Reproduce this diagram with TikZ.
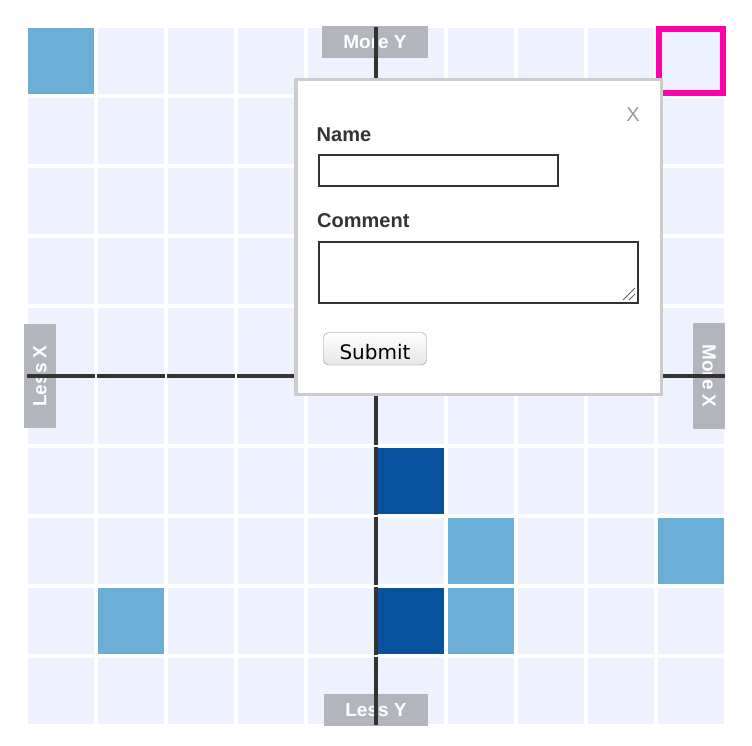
\documentclass[tikz,border=0pt]{standalone}
\usepackage{fontspec}
\setmainfont{Liberation Sans}
\newfontfamily\buttonfont{DejaVu Sans}
\usepackage{xcolor}
\usepackage{tikz}
\definecolor{cellbg}{HTML}{EEF2FE}
\definecolor{lightblue}{HTML}{6BAED6}
\definecolor{darkblue}{HTML}{08519C}
\definecolor{hotpink}{HTML}{FF00AA}
\definecolor{labelgray}{HTML}{B3B5BD}
\definecolor{axisgray}{HTML}{333333}
\definecolor{bordergray}{HTML}{CCCCCC}
\definecolor{closegray}{HTML}{999999}

\tikzset{
  axislabel/.style={fill=labelgray, text=white, inner sep=0pt,
    font=\fontsize{19}{20}\selectfont\bfseries},
  axisline/.style={draw=axisgray, line width=3.2pt},
  formlabel/.style={text=axisgray, inner sep=0pt, anchor=base west,
    font=\fontsize{20}{20}\selectfont\bfseries},
  field/.style={draw=axisgray, line width=2pt, fill=white},
  button/.style={draw=black!45, rounded corners=5pt, top color=white, bottom color=black!10},
  gripline/.style={draw=black!60, line width=1pt},
}

\begin{document}
\begin{tikzpicture}[x=1pt,y=-1pt]
        \useasboundingbox (0,0) rectangle (752,746);

        % Draw the grid of cells
        \foreach \c in {0,...,9}
          \foreach \r in {0,...,9}
            \fill[cellbg] ({28+70*\c},{28+70*\r}) rectangle ++(66,66);

        % Draw the coloured cells
        \foreach \c/\r in {0/0,6/7,9/7,1/8,6/8}
          \fill[lightblue] ({28+70*\c},{28+70*\r}) rectangle ++(66,66);
        \foreach \c/\r in {5/6,5/8}
          \fill[darkblue] ({28+70*\c},{28+70*\r}) rectangle ++(66,66);

        % Draw the selected cell
        \draw[hotpink, line width=6pt] (659,29) rectangle (723,93);

        % Add axis labels
        \node[axislabel, minimum width=106pt, minimum height=32pt] (moreY) at (375,42) {More Y};
        \node[axislabel, minimum width=104pt, minimum height=32pt] (lessY) at (376,710) {Less Y};
        \node[axislabel, minimum width=104pt, minimum height=32pt, rotate=90] (lessX) at (40,376) {Less X};
        \node[axislabel, minimum width=106pt, minimum height=32pt, rotate=-90] (moreX) at (709,376) {More X};

        % Draw the axes
        \foreach \i in {0,...,9} {
          \draw[axisline] ({27+70*\i},376) -- ({95+70*\i},376);
          \draw[axisline] (376,{27+70*\i}) -- (376,{95+70*\i});
        }

        % Draw the popup
        \draw[bordergray, line width=3.5pt, fill=white] (295.75,79.75) rectangle (661.25,394.25);
        \node[text=closegray, inner sep=0pt, font=\fontsize{20}{20}\selectfont] (close) at (633,114.5) {X};

        % Name field
        \node[formlabel] (name) at (316.5,142) {Name};
        \draw[field] (319,155) rectangle (558,186);

        % Comment field
        \node[formlabel] (comment) at (317,227) {Comment};
        \draw[field] (319,242) rectangle (638,303);
        \draw[gripline] (623,300) -- (635,288);
        \draw[gripline] (629,300) -- (635,294);

        % Submit button
        \draw[button] (323.5,332.5) rectangle (426.5,365);
        \node[anchor=base, inner sep=0pt, font=\buttonfont\fontsize{20}{20}\selectfont] (submit) at (375,359) {Submit};

    \end{tikzpicture}
\end{document}
